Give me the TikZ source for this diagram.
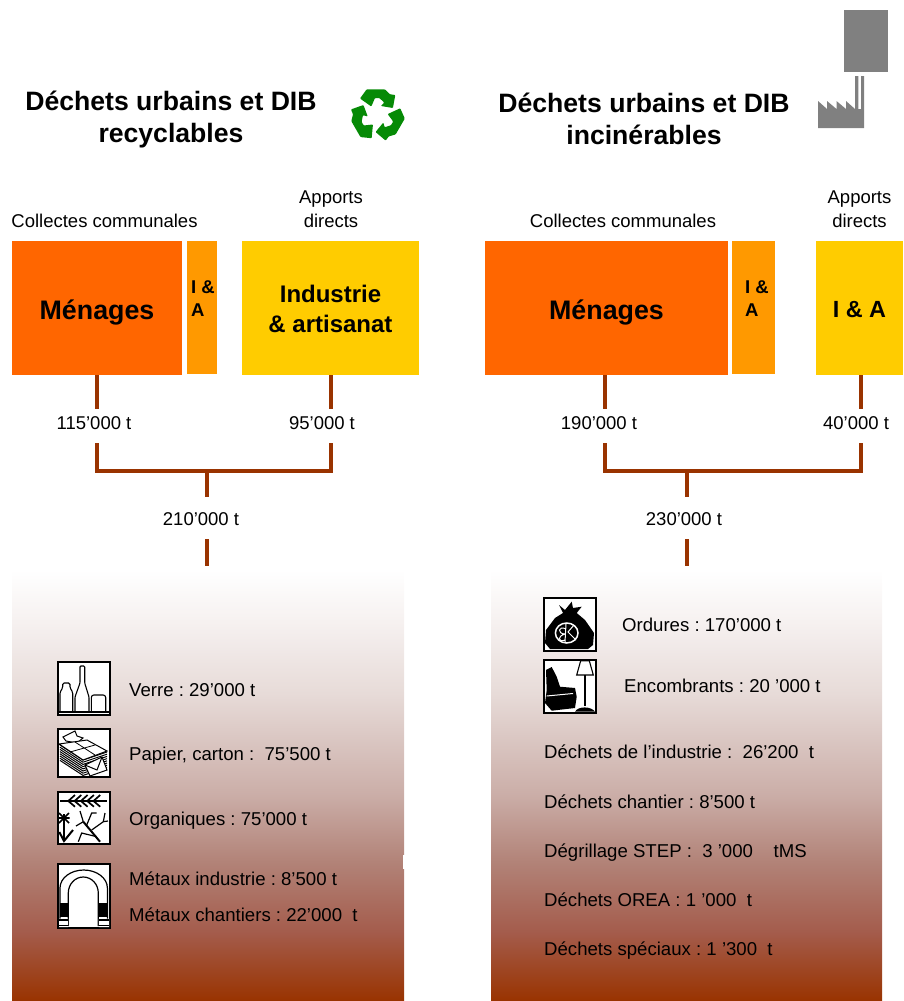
\documentclass[tikz,border=0pt]{standalone}
\usepackage{fontspec}
\setmainfont{Liberation Sans}
\frenchspacing
\definecolor{menage}{HTML}{FF6600}
\definecolor{ia}{HTML}{FF9900}
\definecolor{indus}{HTML}{FFCC00}
\definecolor{brun}{HTML}{993300}
\definecolor{gris}{HTML}{808080}
\definecolor{vert}{HTML}{068A06}
\definecolor{gA}{HTML}{A45C4C}
\definecolor{gB}{HTML}{B28378}
\definecolor{gC}{HTML}{CBAEA8}
\definecolor{gD}{HTML}{E7DBD8}
\definecolor{gE}{HTML}{F6F1F0}
\pgfdeclareverticalshading{panneau}{100bp}{
  color(0bp)=(brun); color(25bp)=(brun);
  color(33bp)=(gA);
  color(41.2bp)=(gB);
  color(49bp)=(gC);
  color(60.7bp)=(gD);
  color(69bp)=(gE);
  color(75bp)=(white); color(100bp)=(white)}
\tikzset{
  box/.style={inner sep=0pt,outer sep=0pt,anchor=north west},
  big/.style={align=center,font=\fontsize{26.8}{32}\selectfont\bfseries},
  med/.style={align=center,font=\fontsize{24}{30}\selectfont\bfseries},
  sml/.style={anchor=north west,align=left,inner sep=0pt,font=\fontsize{18.5}{22.5}\selectfont\bfseries},
  title/.style={align=center,font=\fontsize{26.6}{32}\selectfont\bfseries},
  lbl/.style={align=center,font=\fontsize{18.5}{24}\selectfont},
  item/.style={anchor=base west,inner sep=0pt,font=\fontsize{18.6}{22}\selectfont},
  conn/.style={draw=brun,line width=4.5pt},
  icon/.style={draw=black,line width=2pt,fill=white},
  panel/.style={shading=panneau},
  thin/.style={draw=black,line width=1.1pt,fill=none}
}
\begin{document}
\begin{tikzpicture}[x=1pt,y=-1pt]
\useasboundingbox (0,0) rectangle (903,1001);
% panels
\shade[panel] (12,570) rectangle (404,1001);
\shade[panel] (491,570) rectangle (882,1001);
\fill[white] (403,855) rectangle (404.5,869);
% titles
\node[title] (t1) at (171,120) {Déchets urbains et DIB\\recyclables};
\node[title] (t2) at (644,119) {Déchets urbains et DIB\\incinérables};
% recycle symbol
\begin{scope}[shift={(377.3,115)}]
 \foreach \a in {0,120,240}{
  \begin{scope}[rotate=\a]
   \fill[vert,rounded corners=0.8pt] (-17.3,-16.5) -- (-10.7,-25.6) -- (7.7,-25.6) -- (12.7,-20.7) -- (18,-20) -- (15.6,-7) -- (3.5,-9) -- (7,-12.5) -- (2,-17) -- (-2.3,-17) -- (-6,-8.5) -- cycle;
  \end{scope}}
\end{scope}
% factory
\fill[gris] (844,10) rectangle (888,72);
\fill[gris] (818,128) -- (818,101) -- (827,109) -- (827,101) -- (836.5,109) -- (836.5,101) -- (846,109) -- (846,101) -- (855,109) -- (855,76) -- (858.3,76) -- (858.3,109) -- (861,109) -- (861,76) -- (864,76) -- (864,128) -- cycle;
% boxes
\node[box,fill=menage,minimum width=170pt,minimum height=134pt] (m1) at (12,241) {};
\node[big] (m1t) at (97,313) {Ménages};
\node[box,fill=ia,minimum width=30pt,minimum height=133pt] (a1) at (187,241) {};
\node[sml] (a1t) at (191,280.5) {I \&\\A};
\node[box,fill=indus,minimum width=177pt,minimum height=134pt] (i1) at (242,241) {};
\node[med] (i1t) at (330.5,309) {Industrie\\\& artisanat};
\node[box,fill=menage,minimum width=243pt,minimum height=134pt] (m2) at (485,241) {};
\node[big] (m2t) at (606.5,313) {Ménages};
\node[box,fill=ia,minimum width=43pt,minimum height=133pt] (a2) at (732,241) {};
\node[sml] (a2t) at (745,280.5) {I \&\\A};
\node[box,fill=indus,minimum width=87pt,minimum height=134pt] (i2) at (816,241) {};
\node[font=\fontsize{23.4}{27}\selectfont\bfseries] (i2t) at (859.5,310) {I \& A};
% header labels
\node[lbl] (c1) at (104.5,221) {Collectes communales};
\node[lbl] (d1) at (331,209) {Apports\\directs};
\node[lbl] (c2) at (623,221) {Collectes communales};
\node[lbl] (d2) at (859.5,209) {Apports\\directs};
% quantities
\node[lbl] (q1) at (94,423) {115’000 t};
\node[lbl] (q2) at (322,423) {95’000 t};
\node[lbl] (q3) at (201,519) {210’000 t};
\node[lbl] (q4) at (599,423) {190’000 t};
\node[lbl] (q5) at (856,423) {40’000 t};
\node[lbl] (q6) at (684,519) {230’000 t};
% connector points
\foreach \n/\x/\y in {a/97/375,b/97/409,c/97/443,d/97/471,e/331/375,f/331/409,g/331/443,h/331/471,i/207/471,j/207/497,k/207/539,l/207/566,
 m/605/375,n/605/409,o/605/443,p/605/471,q/861/375,r/861/409,s/861/443,u/861/471,v/687/471,w/687/497,y/687/539,z/687/566}
  \coordinate (\n) at (\x,\y);
\draw[conn] (a) -- (b);
\draw[conn] (e) -- (f);
\draw[conn,line join=miter] (c) -- (d) -- (h) -- (g);
\draw[conn] (i) -- (j);
\draw[conn] (k) -- (l);
\draw[conn] (m) -- (n);
\draw[conn] (q) -- (r);
\draw[conn,line join=miter] (o) -- (p) -- (u) -- (s);
\draw[conn] (v) -- (w);
\draw[conn] (y) -- (z);
% left items
\node[item] (v1) at (129,696) {Verre : 29’000 t};
\node[item] (v2) at (129,760) {Papier, carton :~ 75’500 t};
\node[item] (v3) at (129,825) {Organiques : 75’000 t};
\node[item] (v4) at (129,885) {Métaux industrie : 8’500 t};
\node[item] (v5) at (129,921) {Métaux chantiers : 22’000~ t};
% right items
\node[item] (w1) at (622,631) {Ordures : 170’000 t};
\node[item] (w2) at (624,692) {Encombrants : 20 ’000 t};
\node[item] (w3) at (544,758) {Déchets de l’industrie :~ 26’200~ t};
\node[item] (w4) at (544,808) {Déchets chantier : 8’500 t};
\node[item] (w5) at (544,857) {Dégrillage STEP :~ 3 ’000~~~ tMS};
\node[item] (w6) at (544,906) {Déchets OREA : 1 ’000~ t};
\node[item] (w7) at (544,955) {Déchets spéciaux : 1 ’300~ t};
% icon: verre
\draw[icon] (58,662) rectangle (110,714.5);
\draw[thin,rounded corners=1.5pt] (60,712) -- (60,692) -- (62.7,688) -- (62.7,683) -- (70,683) -- (70,688) -- (72.7,692) -- (72.7,712);
\draw[thin,rounded corners=1pt] (75,712) -- (75,697) -- (80,683) -- (80,666) -- (84.7,666) -- (84.7,683) -- (89,697) -- (89,712);
\draw[thin,rounded corners=2.5pt] (91.3,712) -- (91.3,695) -- (105.7,695) -- (105.7,712);
\draw[black,line width=1.6pt] (59,712) -- (109,712);
% icon: papier
\draw[icon] (58,728.5) rectangle (110,777);
\fill[white,draw=black,line width=1pt] (63,737) -- (75,731) -- (77,736) -- (83,738) -- (77,743) -- (66,741) -- cycle;
\foreach \k in {0,2.2,...,15.6}{\draw[black,line width=1pt] (60,{745+\k}) -- (83,{760+\k}) -- (107,{752+\k});}
\fill[white,draw=black,line width=1pt] (59,744) -- (87,740) -- (107,751) -- (83,760) -- cycle;
\draw[black,line width=0.8pt] (70,752) -- (95,745) (75,742) -- (95,755);
\fill[white,draw=black,line width=1pt] (85,765) -- (102,757) -- (107,770) -- (90,776) -- cycle;
\draw[black,line width=1pt] (85,765) -- (97,770) -- (102,757);
% icon: organiques
\draw[icon] (58,792) rectangle (110,843.5);
\draw[black,line width=1.2pt] (60,801) -- (107,801);
\foreach \k in {0,6.3,...,31.5}{\draw[black,line width=1.7pt] ({75+\k},795) -- ({68.3+\k},801) -- ({75+\k},806.7);}
\draw[black,line width=1.6pt] (64,814) -- (64,840);
\draw[black,line width=1.6pt] (59,813) -- (69,823) (69,813) -- (59,823) (58.5,818) -- (69.5,818);
\draw[black,line width=2pt] (59.3,832) -- (64,841) -- (73,830);
\draw[black,line width=2pt] (100,841.7) -- (83.3,821.7);
\draw[black,line width=1.2pt] (83.3,821.7) -- (80,811) (91.7,830) -- (103.3,821.7) -- (105,813) (103.3,821.7) -- (108,821) (86.7,825) -- (91.7,813) -- (96.7,813) (96.7,836.7) -- (81.7,833) -- (78.3,841.7) (83.3,821.7) -- (76,826);
% icon: aimant
\draw[icon] (58,864) rectangle (110,928);
\draw[black,line width=1.2pt] (60,926) -- (60,888) arc[start angle=180,end angle=360,x radius=23.7,y radius=18] -- (107.4,926);
\draw[black,line width=1.2pt] (68.3,926) -- (68.3,893) arc[start angle=180,end angle=360,x radius=15,y radius=16] -- (98.3,926);
\fill[black] (60,903) rectangle (68.5,917);
\fill[black] (98,903) rectangle (107.4,917);
\fill[white] (59,918.5) rectangle (68,927) (98.8,918.5) rectangle (109,927);
\draw[black,line width=1.2pt] (59,920) -- (68,920) (59,925.5) -- (68,925.5) (98.8,920) -- (109,920) (98.8,925.5) -- (109,925.5);
% icon: sac
\draw[icon] (544,598) rectangle (596,651);
\fill[black] (559,605) -- (565,610) -- (571.7,601.7) -- (573,608) -- (581.7,606.7) -- (576.7,613) -- (585,620) -- (594,633) -- (593,645) -- (588,649) -- (550,649) -- (545,643) -- (546,630) -- (555,618) -- (563,613) -- cycle;
\draw[white,line width=1.5pt] (566.7,633) ellipse[x radius=11.3,y radius=10];
\draw[white,line width=1pt] (566,624) -- (565,642) (566,629) .. controls (558,625) and (557,634) .. (565,634) (565,634) .. controls (557,636) and (558,643) .. (565,640) (574,625) -- (568,632) -- (576,640);
% icon: fauteuil
\draw[icon] (544,660) rectangle (596,712.5);
\fill[black] (546,670) -- (551.7,667) -- (556.7,676.7) -- (560,686.7) -- (575,688) -- (576.7,696.7) -- (575,708) -- (551.7,710.7) -- (545,703) -- (546.7,690) -- cycle;
\draw[white,line width=1pt] (546.7,696) -- (573,693.5);
\fill[white,draw=black,line width=1.1pt] (576.7,675) -- (580.7,660.7) -- (589.3,660.7) -- (593.3,675) -- cycle;
\draw[black,line width=1.6pt] (585,675) -- (585,706);
\fill[black] (575,711.7) .. controls (578,706) and (591,706) .. (595,711.7) -- cycle;
\end{tikzpicture}
\end{document}
